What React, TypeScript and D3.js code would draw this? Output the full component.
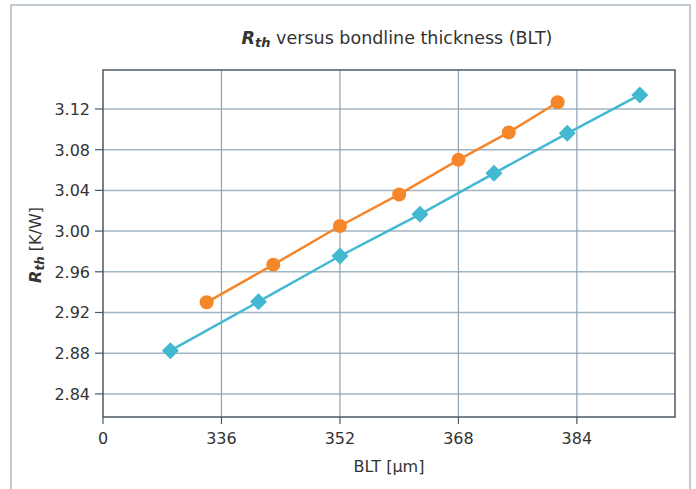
import React from "react";
import * as d3 from "d3";

const orangeX = [334, 343, 352, 360, 368, 374.8, 381.4];
const orangeY = [2.930, 2.967, 3.005, 3.036, 3.070, 3.097, 3.1266];
const blueX = [329.1, 341.0, 352.0, 362.8, 372.8, 382.7, 392.5];
const blueY = [2.8825, 2.9306, 2.9755, 3.0165, 3.0568, 3.0961, 3.1338];
const xTicks = [320, 336, 352, 368, 384];
const xTickLabels = ["0", "336", "352", "368", "384"];
const yTicks = [2.84, 2.88, 2.92, 2.96, 3.0, 3.04, 3.08, 3.12];

const W = 696, H = 489;
const L = 103, R = 675, T = 70, B = 417;

export default function App() {
  const x = d3.scaleLinear().domain([320, 397.25]).range([L, R]);
  const y = d3.scaleLinear().domain([2.8173, 3.1583]).range([B, T]);
  const line = d3.line<[number, number]>().x(d => x(d[0])).y(d => y(d[1]));
  const oPts: [number, number][] = orangeX.map((v, i) => [v, orangeY[i]]);
  const bPts: [number, number][] = blueX.map((v, i) => [v, blueY[i]]);
  const font = "'DejaVu Sans', sans-serif";
  const orange = "#F5862A";
  const blue = "#42B8D1";
  const ds = 8.5;
  const fs = 16;
  return (
    <svg width={W} height={H} style={{ position: "absolute", left: 0, top: 0, fontFamily: font }}>
      <rect x={0} y={0} width={W} height={H} fill="#fff" />
      <rect x={11} y={5} width={679} height={500} fill="none" stroke="#bfcad2" strokeWidth={2} />
      <text x={397} y={44} textAnchor="middle" fontSize={17.5} fill="#333">
        <tspan fontWeight="bold" fontStyle="italic">R</tspan>
        <tspan fontWeight="bold" fontStyle="italic" fontSize={13} dy={3}>th</tspan>
        <tspan dy={-3}> versus bondline thickness (BLT)</tspan>
      </text>
      {yTicks.map(t => (
        <g key={"y" + t}>
          <line x1={L} x2={R} y1={y(t)} y2={y(t)} stroke="#a3b4c1" strokeWidth={1.5} />
          <line x1={95} x2={L} y1={y(t)} y2={y(t)} stroke="#4d5964" strokeWidth={1.2} />
          <text x={90} y={y(t) + 6} textAnchor="end" fontSize={fs} fill="#333">{t.toFixed(2)}</text>
        </g>
      ))}
      {xTicks.map((t, i) => (
        <g key={"x" + t}>
          {i > 0 && <line x1={x(t)} x2={x(t)} y1={T} y2={B} stroke="#8ea3b3" strokeWidth={1.2} />}
          <line x1={x(t)} x2={x(t)} y1={B} y2={424} stroke="#4d5964" strokeWidth={1.2} />
          <text x={x(t)} y={444} textAnchor="middle" fontSize={fs} fill="#333">{xTickLabels[i]}</text>
        </g>
      ))}
      <rect x={L} y={T} width={R - L} height={B - T} fill="none" stroke="#4d5964" strokeWidth={1.5} />
      <path d={line(bPts) || ""} fill="none" stroke={blue} strokeWidth={2.5} />
      <path d={line(oPts) || ""} fill="none" stroke={orange} strokeWidth={2.5} />
      {bPts.map((p, i) => (
        <path key={"b" + i} transform={`translate(${x(p[0])},${y(p[1])})`}
          d={`M0,${-ds}L${ds},0L0,${ds}L${-ds},0Z`} fill={blue} />
      ))}
      {oPts.map((p, i) => (
        <circle key={"o" + i} cx={x(p[0])} cy={y(p[1])} r={7} fill={orange} />
      ))}
      <text x={389} y={472} textAnchor="middle" fontSize={fs} fill="#333">BLT [µm]</text>
      <text transform="translate(41,245) rotate(-90)" textAnchor="middle" fontSize={fs} fill="#333">
        <tspan fontWeight="bold" fontStyle="italic">R</tspan>
        <tspan fontWeight="bold" fontStyle="italic" fontSize={12} dy={3}>th</tspan>
        <tspan dy={-3}> [K/W]</tspan>
      </text>
    </svg>
  );
}
